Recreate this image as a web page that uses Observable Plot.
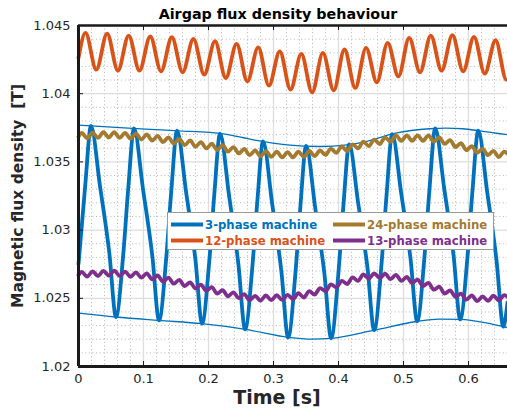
<!DOCTYPE html>
<html><head><meta charset="utf-8">
<script src="https://cdn.jsdelivr.net/npm/d3@7"></script>
<script src="https://cdn.jsdelivr.net/npm/@observablehq/plot@0.6"></script>
<style>
html,body{margin:0;padding:0;background:#fff;}
#chart{position:relative;width:507px;height:411px;overflow:hidden;}
svg text{white-space:pre;}
</style></head><body><div id="chart"></div>
<script>
const titleText = "Airgap flux density behaviour";
const xLabel = "Time [s]";
const yLabel = "Magnetic flux density  [T]";
const xTicks = [0, 0.1, 0.2, 0.3, 0.4, 0.5, 0.6];
const xTickLabels = ["0", "0.1", "0.2", "0.3", "0.4", "0.5", "0.6"];
const yTicks = [1.02, 1.025, 1.03, 1.035, 1.04, 1.045];
const yTickLabels = ["1.02", "1.025", "1.03", "1.035", "1.04", "1.045"];
const xMinor = [0.02,0.04,0.06,0.08,0.12,0.14,0.16,0.18,0.22,0.24,0.26,0.28,0.32,0.34,0.36,0.38,0.42,0.44,0.46,0.48,0.52,0.54,0.56,0.58,0.62,0.64];
const yMinor = [1.021,1.022,1.023,1.024,1.026,1.027,1.028,1.029,1.031,1.032,1.033,1.034,1.036,1.037,1.038,1.039,1.041,1.042,1.043,1.044];

const seriesNames = ["3-phase machine", "12-phase machine", "24-phase machine", "13-phase machine"];
const seriesColors = ["#0072BD", "#D95319", "#A47A2E", "#7E2F8E"];

// 3-phase machine
const t3 = [0, 0.0104, 0.0192, 0.033, 0.0474, 0.0577, 0.0689, 0.0766,
  0.0854, 0.0992, 0.1136, 0.1239, 0.1351, 0.1428,
  0.1516, 0.1654, 0.1798, 0.1901, 0.2013, 0.209,
  0.2178, 0.2316, 0.246, 0.2563, 0.2675, 0.2752,
  0.284, 0.2978, 0.3122, 0.3225, 0.3337, 0.3414,
  0.3502, 0.364, 0.3784, 0.3887, 0.3999, 0.4076,
  0.4164, 0.4302, 0.4446, 0.4549, 0.4661, 0.4738,
  0.4826, 0.4964, 0.5108, 0.5211, 0.5323, 0.54,
  0.5488, 0.5626, 0.577, 0.5873, 0.5985, 0.6062,
  0.615, 0.6288, 0.6432, 0.6535, 0.66];
const v3 = [1.0275, 1.0333, 1.03764, 1.03325, 1.02833, 1.02363, 1.02825, 1.0331,
  1.03745, 1.03302, 1.02809, 1.02338, 1.02803, 1.0329,
  1.03729, 1.03283, 1.02788, 1.02314, 1.02778, 1.03266,
  1.03708, 1.03254, 1.0275, 1.02272, 1.02732, 1.03216,
  1.03651, 1.03198, 1.02695, 1.02212, 1.02682, 1.03175,
  1.03618, 1.0317, 1.02677, 1.02206, 1.02687, 1.03182,
  1.03628, 1.032, 1.02724, 1.02266, 1.02747, 1.03249,
  1.03704, 1.03272, 1.02791, 1.02331, 1.02806, 1.03301,
  1.03745, 1.03306, 1.02815, 1.02345, 1.02807, 1.03293,
  1.03729, 1.03278, 1.02774, 1.02292, 1.0247];
// 3-phase envelopes
const tEnvUp = [0, 0.051, 0.103, 0.154, 0.223, 0.269, 0.321, 0.372, 0.413, 0.442, 0.488, 0.54, 0.565, 0.591, 0.617, 0.66];
const vEnvUp = [1.0377, 1.03755, 1.0374, 1.03728, 1.03706, 1.03662, 1.03625, 1.03613, 1.03625, 1.03649, 1.03711, 1.03743, 1.03748, 1.03743, 1.03728, 1.03699];
const tEnvLo = [0, 0.058, 0.123, 0.19, 0.257, 0.323, 0.36, 0.388, 0.454, 0.52, 0.555, 0.588, 0.625, 0.66];
const vEnvLo = [1.02392, 1.02363, 1.02338, 1.02314, 1.02272, 1.02213, 1.022, 1.02206, 1.02265, 1.0233, 1.02348, 1.02345, 1.02322, 1.02285];

// 12-phase machine
const t12 = [0, 0.0108, 0.0274, 0.044, 0.0606, 0.0772, 0.0938, 0.1104, 0.127, 0.1436, 0.1602, 0.1768, 0.1934, 0.21, 0.2266, 0.2432, 0.2598, 0.2764, 0.293, 0.3096, 0.3262, 0.3428, 0.3594, 0.376, 0.3926, 0.4092, 0.4258, 0.4424, 0.459, 0.4756, 0.4922, 0.5088, 0.5254, 0.542, 0.5586, 0.5752, 0.5918, 0.6084, 0.625, 0.6416, 0.6582, 0.66];
const v12 = [1.04262, 1.04446, 1.04176, 1.04441, 1.04169, 1.04426, 1.04169, 1.04421, 1.04164, 1.04414, 1.04157, 1.04402, 1.0414, 1.04385, 1.04115, 1.04365, 1.0409, 1.0434, 1.04059, 1.04311, 1.0403, 1.04292, 1.0401, 1.04299, 1.04024, 1.04324, 1.04042, 1.04336, 1.04084, 1.04373, 1.04127, 1.0441, 1.04157, 1.04426, 1.04169, 1.04429, 1.04164, 1.04417, 1.04147, 1.04392, 1.04103, 1.04104];

// 24-phase and 13-phase machines (shared sample times)
const tRip = [0, 0.005, 0.0133, 0.0217, 0.03, 0.0383, 0.0467, 0.055, 0.0633, 0.0717, 0.08, 0.0883, 0.0967, 0.105, 0.1133, 0.1217, 0.13, 0.1383, 0.1467, 0.155, 0.1633, 0.1717, 0.18, 0.1883, 0.1967, 0.205, 0.2133, 0.2217, 0.23, 0.2383, 0.2467, 0.255, 0.2633, 0.2717, 0.28, 0.2883, 0.2967, 0.305, 0.3133, 0.3217, 0.33, 0.3383, 0.3467, 0.355, 0.3633, 0.3717, 0.38, 0.3883, 0.3967, 0.405, 0.4133, 0.4217, 0.43, 0.4383, 0.4467, 0.455, 0.4633, 0.4717, 0.48, 0.4883, 0.4967, 0.505, 0.5133, 0.5217, 0.53, 0.5383, 0.5467, 0.555, 0.5633, 0.5717, 0.58, 0.5883, 0.5967, 0.605, 0.6133, 0.6217, 0.63, 0.6383, 0.6467, 0.655, 0.66];
const v24 = [1.03685, 1.03712, 1.03673, 1.03715, 1.03676, 1.03718, 1.03679, 1.03719, 1.03676, 1.03713, 1.0367, 1.03707, 1.03664, 1.03701, 1.03656, 1.0369, 1.03645, 1.0368, 1.03635, 1.03669, 1.03623, 1.03657, 1.03611, 1.03645, 1.03599, 1.03633, 1.03587, 1.03622, 1.03575, 1.03609, 1.03562, 1.03595, 1.03549, 1.03584, 1.03541, 1.03579, 1.03537, 1.03575, 1.03533, 1.03571, 1.03533, 1.03575, 1.03537, 1.0358, 1.03542, 1.03584, 1.03551, 1.03598, 1.03566, 1.03613, 1.0358, 1.03629, 1.03599, 1.03648, 1.03616, 1.03664, 1.03631, 1.03679, 1.03647, 1.03694, 1.03654, 1.03694, 1.03654, 1.03694, 1.03654, 1.03694, 1.03648, 1.0368, 1.03632, 1.0366, 1.03609, 1.03637, 1.03586, 1.03616, 1.03566, 1.03596, 1.03549, 1.03581, 1.03536, 1.03576, 1.0356];
const v13 = [1.0267, 1.02693, 1.02659, 1.02697, 1.02663, 1.02701, 1.02667, 1.02703, 1.02664, 1.02696, 1.02657, 1.0269, 1.02651, 1.02683, 1.02639, 1.02667, 1.02623, 1.02651, 1.02607, 1.02635, 1.0259, 1.02617, 1.02572, 1.026, 1.02555, 1.02582, 1.02534, 1.02559, 1.02515, 1.02544, 1.02501, 1.0253, 1.02487, 1.02518, 1.02483, 1.02521, 1.02486, 1.02523, 1.02488, 1.02525, 1.02495, 1.02537, 1.02506, 1.02553, 1.02528, 1.02575, 1.02552, 1.02602, 1.0258, 1.02628, 1.02605, 1.02653, 1.02628, 1.02675, 1.02645, 1.02683, 1.02648, 1.0268, 1.0264, 1.02672, 1.02628, 1.02656, 1.02613, 1.02637, 1.02589, 1.02613, 1.02563, 1.02585, 1.02534, 1.02558, 1.0251, 1.02534, 1.0249, 1.02521, 1.02479, 1.02514, 1.02481, 1.02519, 1.02485, 1.02524, 1.0251];

const rows = (ts, vs) => ts.map((t, i) => ({t, v: vs[i]}));
const font = "DejaVu Sans";
const W = 507, H = 411, mL = 78, mR = 0, mT = 25, mB = 45;
const fw = W - mL - mR, fh = H - mT - mB;
const lineOpts = (c, w) => ({x: "t", y: "v", stroke: c, strokeWidth: w, curve: "monotone-x", strokeLinejoin: "round", strokeLinecap: "round"});

const svg = Plot.plot({
  width: W, height: H,
  marginLeft: mL, marginRight: mR, marginTop: mT, marginBottom: mB,
  x: {domain: [0, 0.66]},
  y: {domain: [1.02, 1.045]},
  style: {fontFamily: font, fontSize: "13px", color: "#262626", background: "white", overflow: "hidden"},
  marks: [
    Plot.ruleX(xMinor, {stroke: "#b5b5b5", strokeWidth: 1, strokeDasharray: "1,2.6"}),
    Plot.ruleY(yMinor, {stroke: "#b5b5b5", strokeWidth: 1, strokeDasharray: "1,2.6"}),
    Plot.ruleX(xTicks, {stroke: "#dddddd", strokeWidth: 1.3}),
    Plot.ruleY(yTicks, {stroke: "#dddddd", strokeWidth: 1.3}),
    Plot.line(rows(t3, v3), lineOpts(seriesColors[0], 3.8)),
    Plot.line(rows(tEnvUp, vEnvUp), lineOpts(seriesColors[0], 1.3)),
    Plot.line(rows(tEnvLo, vEnvLo), lineOpts(seriesColors[0], 1.3)),
    Plot.line(rows(t12, v12), lineOpts(seriesColors[1], 3.8)),
    Plot.line(rows(tRip, v24), lineOpts(seriesColors[2], 3.8)),
    Plot.line(rows(tRip, v13), lineOpts(seriesColors[3], 3.8)),
    // inward ticks
    Plot.ruleX(xTicks, {stroke: "#1a1a1a", strokeWidth: 1, insetTop: fh - 5}),
    Plot.ruleX(xTicks, {stroke: "#1a1a1a", strokeWidth: 1, insetBottom: fh - 5}),
    Plot.ruleY(yTicks, {stroke: "#1a1a1a", strokeWidth: 1, insetRight: fw - 5}),
    // axis box
    Plot.ruleX([0], {stroke: "#1a1a1a", strokeWidth: 3}),
    Plot.ruleY([1.02], {stroke: "#1a1a1a", strokeWidth: 3}),
    Plot.ruleY([1.045], {stroke: "#1a1a1a", strokeWidth: 2.6}),
    Plot.axisX(xTicks, {tickSize: 0, tickPadding: 7, label: null, fontSize: 13, tickFormat: d => xTickLabels[xTicks.indexOf(d)]}),
    Plot.axisY(yTicks, {tickSize: 0, tickPadding: 8, label: null, fontSize: 13, tickFormat: d => yTickLabels[yTicks.indexOf(d)]}),
    Plot.text([titleText], {text: d => d, frameAnchor: "top", textAnchor: "middle", lineAnchor: "middle", dx: -15, dy: -11, fontSize: 14.3, fontWeight: "bold", fill: "#000", fontFamily: font}),
    Plot.text([xLabel], {text: d => d, frameAnchor: "bottom", textAnchor: "middle", lineAnchor: "middle", dx: -16, dy: 31, fontSize: 19, fontWeight: "bold", fill: "#262626", fontFamily: font}),
    Plot.text([yLabel], {text: d => d, frameAnchor: "left", textAnchor: "middle", lineAnchor: "middle", dx: -60, rotate: -90, fontSize: 15.5, fontWeight: "bold", fill: "#262626", fontFamily: font})
  ]
});

// legend (inside the axes, upper-middle)
const leg = d3.select(svg).append("g").attr("font-family", font).attr("font-weight", "bold").attr("font-size", 11.7).attr("text-anchor", "start");
leg.append("rect").attr("x", 167.5).attr("y", 212.5).attr("width", 326).attr("height", 37)
  .attr("fill", "white").attr("stroke", "#999").attr("stroke-width", 1);
const legPos = [[171, 224.5], [171, 240.5], [333, 224.5], [333, 240.5]];
seriesNames.forEach((name, i) => {
  const [lx, ly] = legPos[i];
  leg.append("line").attr("x1", lx).attr("x2", lx + 32).attr("y1", ly).attr("y2", ly)
    .attr("stroke", seriesColors[i]).attr("stroke-width", 4);
  leg.append("text").attr("x", lx + 34).attr("y", ly).attr("dy", "0.36em")
    .attr("text-anchor", "start").attr("fill", seriesColors[i]).text(name);
});

document.getElementById("chart").appendChild(svg);
</script></body></html>
